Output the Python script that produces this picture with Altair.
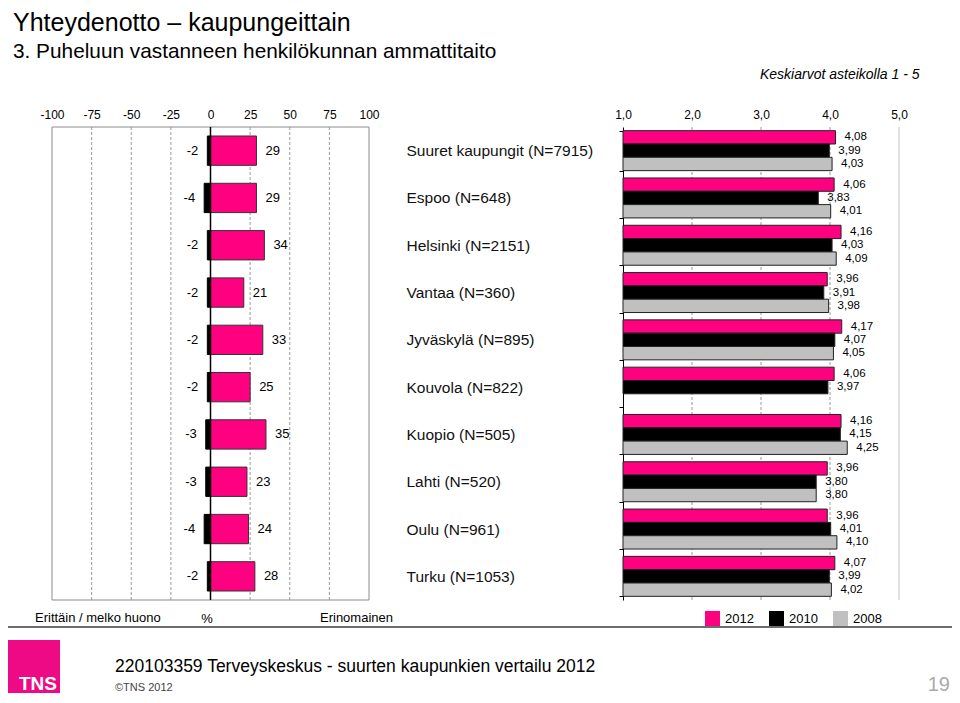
import altair as alt
import pandas as pd

# ---------------- data ----------------
cities = [
    "Suuret kaupungit (N=7915)",
    "Espoo (N=648)",
    "Helsinki (N=2151)",
    "Vantaa (N=360)",
    "Jyväskylä (N=895)",
    "Kouvola (N=822)",
    "Kuopio (N=505)",
    "Lahti (N=520)",
    "Oulu (N=961)",
    "Turku (N=1053)",
]
poor = [-2, -4, -2, -2, -2, -2, -3, -3, -4, -2]
excellent = [29, 29, 34, 21, 33, 25, 35, 23, 24, 28]

years = ["2012", "2010", "2008"]
mean_2012 = [4.08, 4.06, 4.16, 3.96, 4.17, 4.06, 4.16, 3.96, 3.96, 4.07]
mean_2010 = [3.99, 3.83, 4.03, 3.91, 4.07, 3.97, 4.15, 3.80, 4.01, 3.99]
mean_2008 = [4.03, 4.01, 4.09, 3.98, 4.05, None, 4.25, 3.80, 4.10, 4.02]

pct_ticks = [-100, -75, -50, -25, 0, 25, 50, 75, 100]
pct_grid = [-75, -50, -25, 25, 50, 75]
mean_ticks = [1, 2, 3, 4, 5]
mean_grid = [2, 3, 4]

title_text = "Yhteydenotto – kaupungeittain"
subtitle_text = "3. Puheluun vastanneen henkilökunnan ammattitaito"
scale_note = "Keskiarvot asteikolla 1 - 5"
left_caption = "Erittäin / melko huono"
mid_caption = "%"
right_caption = "Erinomainen"
footer_text = "220103359 Terveyskeskus - suurten kaupunkien vertailu 2012"
copyright_text = "©TNS 2012"
page_number = "19"
logo_text = "TNS"

# ---------------- style / layout ----------------
PINK = "#FF0080"
LOGO_PINK = "#EE0A84"
GREY = "#C0C0C0"
FONT = "Liberation Sans"
W, H = 944, 687
TOP, BOTTOM = 119, 592
L0, L1 = 44, 361
R0, R1 = 615, 891

left_df = pd.DataFrame({
    "city": cities,
    "poor": poor,
    "excellent": excellent,
    "poor_label": [str(v) for v in poor],
    "excellent_label": [str(v) for v in excellent],
})
rows = []
for yr, vals in zip(years, [mean_2012, mean_2010, mean_2008]):
    for c, v in zip(cities, vals):
        if v is not None:
            rows.append({"city": c, "year": yr, "value": v,
                         "label": f"{v:.2f}".replace(".", ",")})
right_df = pd.DataFrame(rows)


def one(**kw):
    return pd.DataFrame({k: [v] for k, v in kw.items()})


# ---------------- left panel ----------------
x_left_scale = alt.Scale(domain=[-100, 100], range=[L0, L1], nice=False, zero=False)
x_left_axis = alt.Axis(orient="top", offset=-TOP, values=pct_ticks, tickSize=0,
                       domain=False, grid=False, labelPadding=6, labelFontSize=12,
                       labelColor="black", labelFlush=False, labelOverlap=False,
                       title=None, labelExpr="'' + datum.value")


def xl(field):
    return alt.X(field, type="quantitative", scale=x_left_scale, axis=x_left_axis)


y_left = alt.Y("city:N", scale=alt.Scale(domain=cities, range=[TOP, BOTTOM],
                                         paddingInner=0.38, paddingOuter=0.19),
               axis=None)

frame = alt.Chart(one(lo=-100, hi=100)).mark_rect(
    fillOpacity=0, stroke="#8c8c8c", strokeWidth=1
).encode(x=xl("lo"), x2="hi", y=alt.value(TOP), y2=alt.value(BOTTOM))

grid_left = alt.Chart(pd.DataFrame({"g": pct_grid})).mark_rule(
    color="#9a9a9a", strokeDash=[3, 2], strokeWidth=1
).encode(x=xl("g"), y=alt.value(TOP), y2=alt.value(BOTTOM))

pos_bars = alt.Chart(left_df).mark_bar(color=PINK, stroke="#333333", strokeWidth=1).encode(
    x=xl("excellent"), x2=alt.datum(0), y=y_left)
neg_bars = alt.Chart(left_df).mark_bar(color="black", stroke="black", strokeWidth=1).encode(
    x=xl("poor"), x2=alt.datum(0), y=y_left)

zero_line = alt.Chart(one(z=0)).mark_rule(color="black", strokeWidth=1.5).encode(
    x=xl("z"), y=alt.value(TOP), y2=alt.value(BOTTOM))

pos_labels = alt.Chart(left_df).mark_text(align="left", dx=9, fontSize=13, color="black").encode(
    x=xl("excellent"), y=y_left, text="excellent_label:N")
neg_labels = alt.Chart(left_df).mark_text(align="right", dx=-9, fontSize=13, color="black").encode(
    x=xl("poor"), y=y_left, text="poor_label:N")

left = alt.layer(frame, grid_left, pos_bars, neg_bars, zero_line, pos_labels, neg_labels)

# ---------------- right panel ----------------
x_right_scale = alt.Scale(domain=[1, 5], range=[R0, R1], nice=False, zero=False)
x_right_axis = alt.Axis(orient="top", offset=-TOP, values=mean_ticks,
                        labelExpr="replace(format(datum.value, '.1f'), '.', ',')",
                        tickSize=0, domain=False, grid=False, labelPadding=6,
                        labelFontSize=12, labelColor="black", labelFlush=False,
                        labelOverlap=False, title=None)


def xr(field):
    return alt.X(field, type="quantitative", scale=x_right_scale, axis=x_right_axis)


y_right = alt.Y("city:N",
                scale=alt.Scale(domain=cities, range=[TOP, BOTTOM],
                                paddingInner=0.155, paddingOuter=0.0775),
                axis=alt.Axis(orient="left", offset=-R0, domain=True, domainColor="black",
                              domainWidth=1, ticks=True, tickBand="extent", tickSize=4,
                              tickColor="black", labelAlign="left", labelPadding=213,
                              labelFontSize=15.5, labelFontWeight="normal",
                              labelColor="#111111", labelLimit=0,
                              labelBaseline="middle", title=None))
y_off = alt.YOffset("year:N", scale=alt.Scale(domain=years, paddingInner=0, paddingOuter=0))
color = alt.Color("year:N",
                  scale=alt.Scale(domain=years, range=[PINK, "black", GREY]),
                  legend=alt.Legend(orient="none", legendX=697, legendY=603,
                                    direction="horizontal", title=None,
                                    symbolType="square", symbolSize=225,
                                    symbolStrokeWidth=0, symbolOpacity=1,
                                    labelFontSize=13, labelColor="black",
                                    labelOffset=5, columnPadding=15, padding=0))

grid_right = alt.Chart(pd.DataFrame({"g": mean_grid})).mark_rule(
    color="#9a9a9a", strokeDash=[3, 2], strokeWidth=1
).encode(x=xr("g"), y=alt.value(TOP), y2=alt.value(BOTTOM))
edge_right = alt.Chart(one(g=5)).mark_rule(color="#c4c4c4", strokeWidth=1).encode(
    x=xr("g"), y=alt.value(TOP), y2=alt.value(BOTTOM))

mean_bars = alt.Chart(right_df).mark_bar(stroke="#222222", strokeWidth=1).encode(
    x=xr("value"), x2=alt.datum(1), y=y_right, yOffset=y_off, color=color)
mean_labels = alt.Chart(right_df).mark_text(align="left", dx=9, fontSize=11.5,
                                            color="black", baseline="middle").encode(
    x=xr("value"), y=y_right, yOffset=y_off, text="label:N")

right = alt.layer(grid_right, edge_right, mean_bars, mean_labels)


# ---------------- header / footer texts ----------------
def text_layer(txt, x, y, size, align="left", baseline="middle", color="black",
               weight="normal", style="normal"):
    return alt.Chart(one(t=txt)).mark_text(
        align=align, baseline=baseline, fontSize=size, color=color,
        fontWeight=weight, fontStyle=style
    ).encode(text="t:N", x=alt.value(x), y=alt.value(y))


title_l = text_layer(title_text, 5, 23, 25, baseline="alphabetic")
subtitle_l = text_layer(subtitle_text, 5, 50, 20.8, baseline="alphabetic")
note_l = text_layer(scale_note, 752, 67, 14, style="italic")

cap1 = text_layer(left_caption, 27, 610, 13)
cap2 = text_layer(mid_caption, 199, 611, 13, align="center")
cap3 = text_layer(right_caption, 312, 610, 13)

sep_line = alt.Chart(one(a=0)).mark_rule(color="#6d6d6d", strokeWidth=2).encode(
    x=alt.value(0), x2=alt.value(W), y=alt.value(619))

logo = alt.Chart(one(a=0)).mark_rect(color=LOGO_PINK).encode(
    x=alt.value(0), x2=alt.value(52), y=alt.value(632), y2=alt.value(685))
logo_t = text_layer(logo_text, 49, 682, 19, align="right", baseline="alphabetic",
                    color="white", weight="bold")
foot_t = text_layer(footer_text, 107, 659, 17.5)
copy_t = text_layer(copyright_text, 107, 680, 11, color="#444444")
page_t = text_layer(page_number, 942, 683, 20, align="right", baseline="alphabetic",
                    color="#aaaaaa")

chart = alt.layer(
    title_l, subtitle_l, note_l,
    left, right,
    cap1, cap2, cap3, sep_line, logo, logo_t, foot_t, copy_t, page_t,
).resolve_scale(
    x="independent", y="independent"
).resolve_axis(
    x="independent", y="independent"
).properties(
    width=W, height=H, autosize=alt.AutoSizeParams(type="none"), padding=0
).configure(font=FONT).configure_view(stroke=None)

chart.save("out.html", embed_options={"renderer": "svg", "actions": False})
